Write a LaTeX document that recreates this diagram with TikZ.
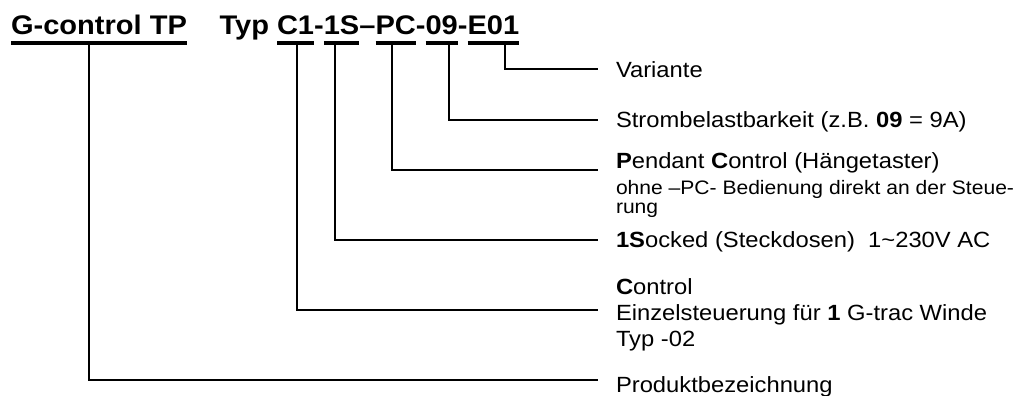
\documentclass[tikz,border=0pt]{standalone}
\usepackage{fontspec}
\setmainfont{Liberation Sans}[FakeStretch=1.08]
\usetikzlibrary{positioning}

\tikzset{
  ttl/.style={inner sep=0pt, outer sep=0pt, anchor=base west,
    font=\fontsize{26.9}{30}\selectfont\bfseries},
  desc/.style={inner sep=0pt, outer sep=0pt, anchor=base west, align=left,
    font=\fontsize{22}{26}\selectfont},
  note/.style={desc, font=\fontsize{19.5}{19.5}\selectfont},
  conn/.style={draw=black, line width=2pt},
  uline/.style={draw=black, line width=3.5pt},
}

\begin{document}
\frenchspacing
\begin{tikzpicture}[x=1pt,y=-1pt]
\useasboundingbox (0,0) rectangle (1026,396);

% type code
\node[ttl] (tp) at (11,35) {G-control TP};
\node[ttl] (c1) at (277,35) {C1};
\node[ttl, base left=8pt of c1] (typ) {Typ};
\node[ttl, base right=0pt of c1] (h1) {-};
\node[ttl, base right=0pt of h1] (s1) {1S};
\node[ttl, base right=0pt of s1] (h2) {\textendash};
\node[ttl, base right=0pt of h2] (pc) {PC};
\node[ttl, base right=0pt of pc] (h3) {-};
\node[ttl, base right=0pt of h3] (n09) {09};
\node[ttl, base right=0pt of n09] (h4) {-};
\node[ttl, base right=0pt of h4] (e01) {E01};

\foreach \n in {tp,c1,s1,pc,n09,e01}
  \draw[uline] ([yshift=-8pt]\n.base west) -- ([yshift=-8pt]\n.base east);

% descriptions
\node[desc] (vari) at (616,77.5) {Variante};
\node[desc] (strom) at (616,127.5) {Strombelastbarkeit (z.B. \textbf{09} = 9A)};
\node[desc] (pend) at (616,168) {\textbf{P}endant \textbf{C}ontrol (Hängetaster)};
\node[note, anchor=north west] (pendnote) at (616,180) {ohne \textendash PC- Bedienung direkt an der Steue-\\rung};
\node[desc] (sock) at (616,247) {\textbf{1S}ocked (Steckdosen)\ \ 1\textasciitilde230V AC};
\node[desc, anchor=north west] (ctrl) at (616,278.4) {\textbf{C}ontrol\\Einzelsteuerung für \textbf{1} G-trac Winde\\Typ -02};
\node[desc] (prod) at (616,392) {Produktbezeichnung};

% drop points below the code parts
\coordinate (dTP) at (89,43);
\coordinate (dC1) at (297,43);
\coordinate (d1S) at (335,43);
\coordinate (dPC) at (392,43);
\coordinate (d09) at (449,43);
\coordinate (dE01) at (505,43);

\draw[conn] (dE01) |- ([xshift=-18pt,yshift=8.2pt]vari.base west);
\draw[conn] (d09) |- ([xshift=-18pt,yshift=7.5pt]strom.base west);
\draw[conn] (dPC) |- ([xshift=-18pt,yshift=-2pt]pend.base west);
\draw[conn] (d1S) |- ([xshift=-18pt,yshift=7.5pt]sock.base west);
\draw[conn] (dC1) |- ([xshift=-18pt,yshift=-31.1pt]ctrl.north west);
\draw[conn] (dTP) |- ([xshift=-18pt,yshift=12pt]prod.base west);
\end{tikzpicture}
\end{document}
